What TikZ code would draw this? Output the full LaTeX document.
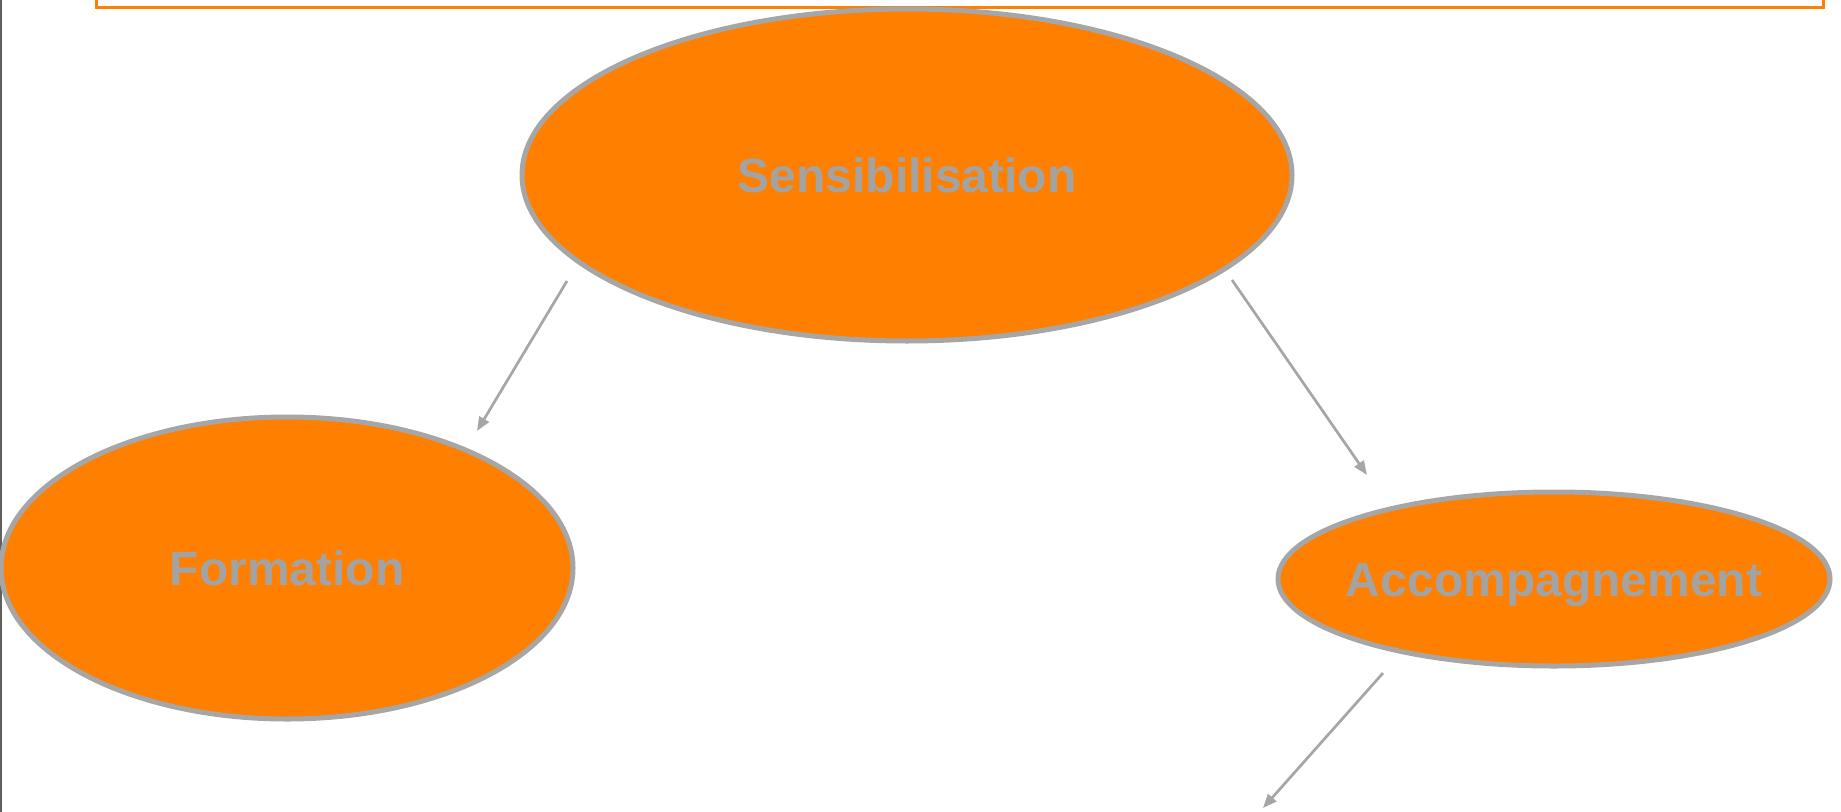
\documentclass[tikz,border=0pt]{standalone}
\usepackage{fontspec}
\setmainfont{Liberation Sans}
\usetikzlibrary{arrows.meta,shapes.geometric}
\definecolor{orng}{RGB}{255,127,0}
\definecolor{bordergray}{RGB}{166,166,166}
\definecolor{txtgray}{RGB}{163,163,163}
\definecolor{leftgray}{RGB}{96,96,96}
\tikzset{
  bubble/.style={ellipse, draw=bordergray, line width=5pt, fill=orng, inner sep=0pt},
  bubbletext/.style={anchor=base, text=txtgray, inner sep=0pt,
    font=\fontsize{48pt}{57pt}\selectfont\bfseries},
  conn/.style={draw=bordergray, line width=2.7pt, -{Triangle[length=14pt,width=11pt]}},
  frameline/.style={draw=orng, line width=3pt}
}
\begin{document}
\begin{tikzpicture}[x=1pt,y=-1pt]
\useasboundingbox (0,0) rectangle (1841,811);
\clip (0,0) rectangle (1841,811);
% left edge line and top frame
\draw[leftgray, line width=2.5pt] (1,-10) -- (1,821);
\draw[frameline] (96,-30) rectangle (1823,7.5);
% ellipses
\node[bubble, minimum width=770pt, minimum height=332pt] (sens) at (907,175) {};
\node[bubble, minimum width=572pt, minimum height=302pt] (form) at (287,568) {};
\node[bubble, minimum width=552pt, minimum height=174pt] (acc) at (1554,579) {};
% labels
\node[bubbletext] (senst) at ([yshift=-17pt]sens.center) {Sensibilisation};
\node[bubbletext] (formt) at ([yshift=-17pt]form.center) {Formation};
\node[bubbletext] (acct) at ([yshift=-17pt]acc.center) {Accompagnement};
% connector end points
\coordinate (a1s) at (567,281);
\coordinate (a1e) at (477,431);
\coordinate (a2s) at (1232,280);
\coordinate (a2e) at (1367,475);
\coordinate (a3s) at (1383,673);
\coordinate (a3e) at (1263,808);
\draw[conn] (a1s) -- (a1e);
\draw[conn] (a2s) -- (a2e);
\draw[conn] (a3s) -- (a3e);
\end{tikzpicture}
\end{document}
